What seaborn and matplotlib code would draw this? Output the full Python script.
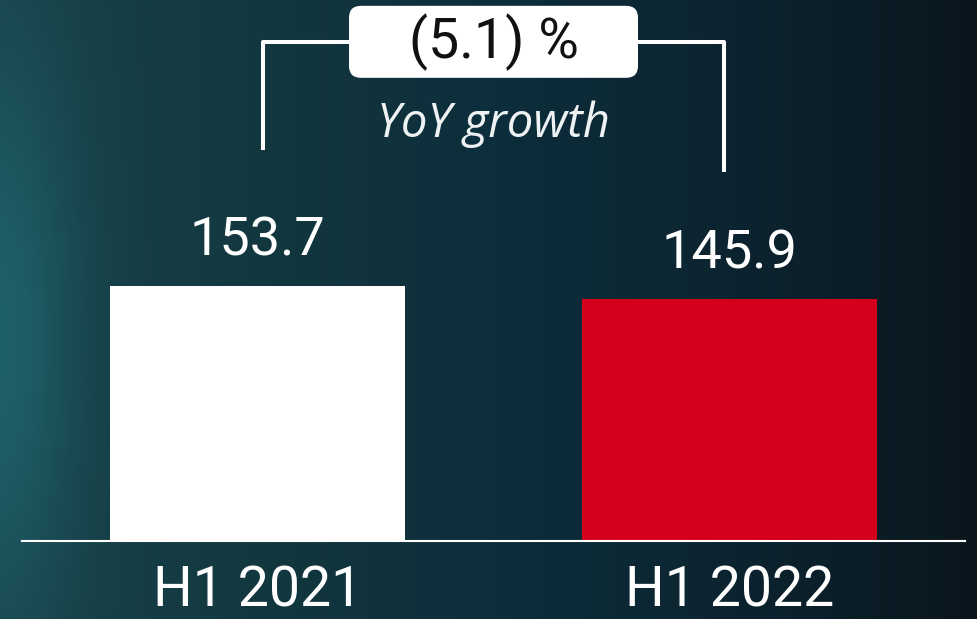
import numpy as np
import pandas as pd
import matplotlib.pyplot as plt
import matplotlib.transforms as mtransforms
from matplotlib.patches import FancyBboxPatch
import seaborn as sns

# chart data
periods = ["H1 2021", "H1 2022"]
values = [153.7, 145.9]
bar_colors = ["#ffffff", "#d5001c"]
growth_label = "(5.1) %"
growth_caption = "YoY growth"

sns.set_style("white")
plt.rcParams['font.family'] = ['Roboto', 'DejaVu Sans']

W, H = 977, 619
fig = plt.figure(figsize=(W / 100, H / 100), dpi=100)

# dark teal background: horizontal gradient plus a glow on the left edge
bg = fig.add_axes([0, 0, 1, 1], zorder=0)
yy, xx = np.mgrid[0:H, 0:W]
u, v = xx / W, yy / H
stops = [0.0, 0.1, 0.3, 0.5, 0.75, 1.0]
cols = np.array([[24, 66, 74], [22, 62, 70], [18, 54, 62],
                 [13, 46, 60], [12, 36, 48], [10, 22, 30]]) / 255
img = np.dstack([np.interp(u, stops, cols[:, i]) for i in range(3)])
glow = np.exp(-(u / 0.08) ** 2) * np.exp(-((v - 0.55) / 0.45) ** 2)
img = img + glow[..., None] * np.array([8, 30, 30]) / 255
bg.imshow(np.clip(img, 0, 1), aspect='auto', extent=[0, 1, 0, 1])
bg.axis('off')

# main axes: bottom spine is the baseline
ax = fig.add_axes([22 / W, 78 / H, 943 / W, 541 / H], zorder=1)
ax.patch.set_alpha(0)
df = pd.DataFrame({"period": periods, "value": values})
sns.barplot(data=df, x="period", y="value", hue="period", palette=bar_colors,
            width=0.626, saturation=1, legend=False, linewidth=0, ax=ax)
ax.set_xlim(-0.5, 1.5)
ax.set_ylim(0, 326)

for cont in ax.containers:
    ax.bar_label(cont, fmt='%.1f', padding=14, fontsize=39, color='white')

# bracket with growth box
top = 300.8
lx, rx = 0.012, 0.988
line_kw = dict(color='white', lw=2.9, clip_on=False, zorder=3, solid_capstyle='butt')
ax.plot([lx, lx, 0.5], [values[0] + 82, top, top], **line_kw)
ax.plot([rx, rx, 0.5], [values[1] + 76.5, top, top], **line_kw)

trans = fig.dpi_scale_trans + mtransforms.ScaledTranslation(0.5, top, ax.transData)
box = FancyBboxPatch((-1.445, -0.36), 2.89, 0.72,
                     boxstyle="round,pad=0,rounding_size=0.12",
                     transform=trans, fc='white', ec='none', clip_on=False, zorder=5)
ax.add_patch(box)
ax.text(0.5, top, growth_label, ha='center', va='center', fontsize=40,
        color='#111111', zorder=6)
ax.text(0.5, 243.5, growth_caption, ha='center', va='baseline', fontsize=34,
        style='italic', family=['Open Sans', 'DejaVu Sans'], color='#eef2f3', zorder=6)

# axes styling
sns.despine(ax=ax, left=True)
ax.spines['bottom'].set_color('white')
ax.spines['bottom'].set_linewidth(1.5)
ax.set_yticks([])
ax.set_xlabel('')
ax.set_ylabel('')
ax.tick_params(axis='x', length=0, pad=17, labelsize=40, labelcolor='white')

fig.savefig('out.png', dpi=100)
